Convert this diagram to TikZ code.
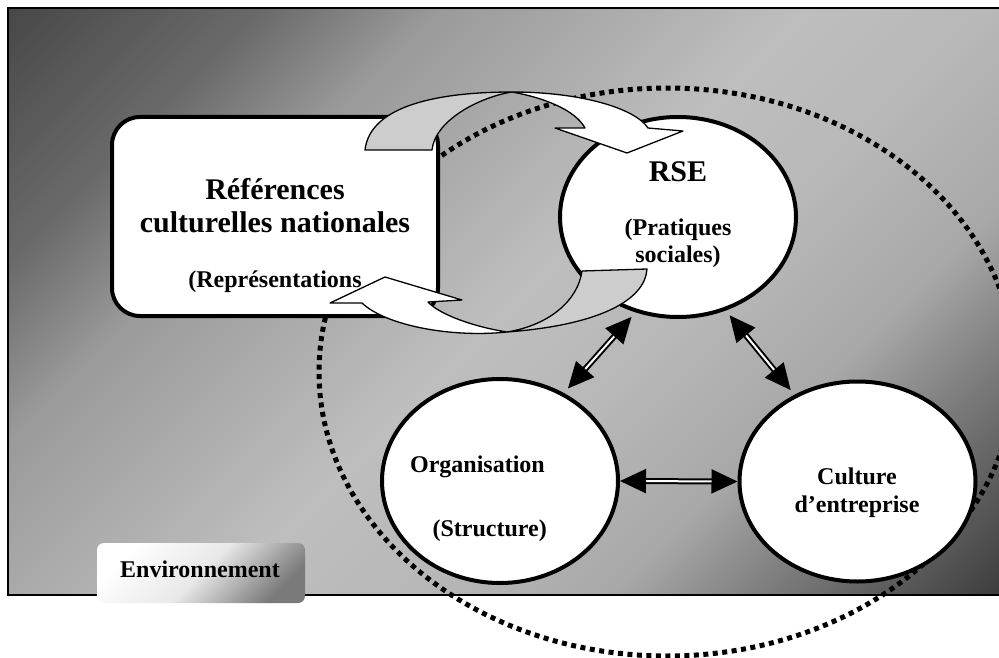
\documentclass[tikz,border=0pt]{standalone}
\usepackage{fontspec}
\setmainfont{Liberation Serif}
\usetikzlibrary{arrows.meta,shapes.geometric}

\definecolor{bgcornerA}{HTML}{484848}
\definecolor{bgsideA}{HTML}{6A6A6A}
\definecolor{bgsideAA}{HTML}{9A9A9A}
\definecolor{bglight}{HTML}{BEBEBE}
\definecolor{bglightB}{HTML}{B8B8B8}
\definecolor{bgsideB}{HTML}{A8A8A8}
\definecolor{bgsideBB}{HTML}{7A7A7A}
\definecolor{bgcornerB}{HTML}{3A3A3A}
\definecolor{ribbongray}{HTML}{CDCDCD}

\pgfdeclareverticalshading{envshade}{100bp}{color(0bp)=(bgcornerB); color(14.64bp)=(bgcornerB);
  color(25.25bp)=(bgsideBB); color(32.3bp)=(bgsideB); color(41.5bp)=(bglightB); color(50bp)=(bglight);
  color(66.27bp)=(bgsideAA); color(74.05bp)=(bgsideA); color(85.36bp)=(bgcornerA); color(100bp)=(bgcornerA)}

\tikzset{
  bgbox/.style={shading=envshade, shading angle=45, draw=black, line width=1.8pt},
  dotring/.style={line width=5pt, dash pattern=on 5pt off 4.5pt},
  refbox/.style={draw, line width=4pt, fill=white, rounded corners=28pt, minimum width=326pt, minimum height=199pt},
  bubble/.style={ellipse, draw, line width=4pt, fill=white, minimum width=236pt, minimum height=200pt},
  envbox/.style={rounded corners=7pt, top color=white, bottom color=black!52, middle color=black!9, shading angle=45, minimum width=208pt, minimum height=60pt},
  bigtxt/.style={font=\fontsize{30}{32}\selectfont\bfseries, anchor=base, inner sep=0pt},
  smalltxt/.style={font=\fontsize{24}{27}\selectfont\bfseries, anchor=base, inner sep=0pt},
  biarrow/.style={double=white, double distance=2pt, line width=2pt, {Triangle[length=26pt,width=24pt]}-{Triangle[length=26pt,width=24pt]}},
  ribbon/.style={draw, line width=1.3pt, line join=round},
}

\begin{document}
\begin{tikzpicture}[x=1pt,y=-1pt]
\useasboundingbox (0,0) rectangle (999,658);
\clip (0,0) rectangle (999,658);

% background
\draw[bgbox] (8,8) rectangle (1012,595);
\draw[dotring] (667,372) ellipse [x radius=348pt, y radius=284pt];

% environment label
\node[envbox] (env) at (201,573) {};
\node[smalltxt] (envt) at (200,577) {Environnement};

% national references
\node[refbox] (ref) at (275,216.5) {};
\node[bigtxt] (reft1) at (275,200) {Références};
\node[bigtxt] (reft2) at (275,232) {culturelles nationales};
\node[smalltxt] (reft3) at (275,287) {(Représentations};

% the three bubbles
\node[bubble] (rse) at (678,217) {};
\node[bigtxt] (rset1) at (678,182) {RSE};
\node[smalltxt] (rset2) at (678,235) {(Pratiques};
\node[smalltxt] (rset3) at (678,262) {sociales)};

\node[bubble, minimum height=204pt] (org) at (500,481) {};
\node[smalltxt, anchor=base east] (orgt1) at (545,472) {Organisation};
\node[smalltxt, anchor=base east] (orgt2) at (547,536) {(Structure)};

\node[bubble] (cult) at (857.5,481.5) {};
\node[smalltxt] (cultt1) at (857,484) {Culture};
\node[smalltxt] (cultt2) at (857,512) {d’entreprise};

% links
\draw[biarrow, shorten <=6pt, shorten >=6pt] (rse.246) -- (org.54);
\draw[biarrow, shorten <=6pt, shorten >=6pt] (rse.297) -- (cult.126);
\draw[biarrow] (org.east) -- (cult.west);

% curved arrow, references to RSE
\draw[ribbon, fill=ribbongray] (365,150) .. controls (370,105) and (440,92) .. (512,92)
  .. controls (480,97) and (435,120) .. (432,150) -- cycle;
\draw[ribbon, fill=white] (512,92) .. controls (580,92) and (635,108) .. (648,128)
  -- (683,131) -- (627,153) -- (555,128) -- (585,128)
  .. controls (575,110) and (545,98) .. (512,92) -- cycle;

% curved arrow, RSE to references
\draw[ribbon, fill=ribbongray] (582,271) -- (647,269) .. controls (645,300) and (600,325) .. (507,332)
  .. controls (550,325) and (578,300) .. (582,271) -- cycle;
\draw[ribbon, fill=white] (507,332) .. controls (450,338) and (385,325) .. (362,303)
  -- (330,303) -- (385,277) -- (462,300) -- (428,302)
  .. controls (440,315) and (475,327) .. (507,332) -- cycle;
\end{tikzpicture}
\end{document}
